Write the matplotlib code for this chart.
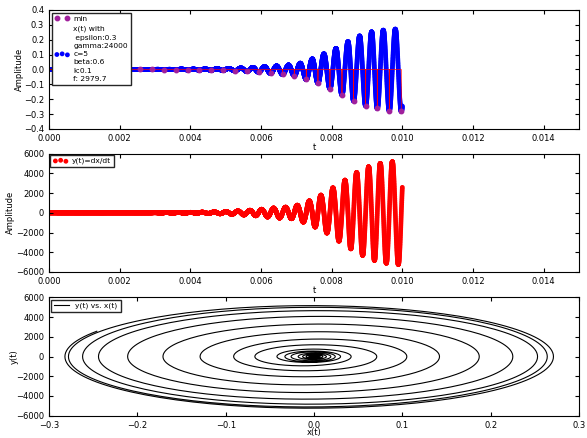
import numpy as np
import matplotlib
matplotlib.use("Agg")
import matplotlib.pyplot as plt

# x(t) minima (purple dots)
t_min = [0.00022, 0.00056, 0.00089, 0.00123, 0.00156, 0.00190, 0.00224, 0.00257,
         0.00291, 0.00324, 0.00358, 0.00392, 0.00425, 0.00459, 0.00492, 0.00526,
         0.00560, 0.00593, 0.00627, 0.00661, 0.00694, 0.00728, 0.00761, 0.00795,
         0.00829, 0.00862, 0.00896, 0.00929, 0.00963, 0.00997]
x_min = [0, 0, 0, 0, 0, 0, 0, 0, 0, -0.001, -0.001, -0.002, -0.003, -0.004, -0.006,
         -0.009, -0.013, -0.018, -0.026, -0.033, -0.042, -0.067, -0.091, -0.129,
         -0.171, -0.211, -0.244, -0.262, -0.278, -0.282]

# x(t) maxima (last one lies past the end of the record)
t_max = [0.00039, 0.00073, 0.00106, 0.00140, 0.00173, 0.00207, 0.00241, 0.00274,
         0.00308, 0.00341, 0.00375, 0.00409, 0.00442, 0.00476, 0.00509, 0.00543,
         0.00577, 0.00610, 0.00644, 0.00678, 0.00711, 0.00745, 0.00778, 0.00812,
         0.00846, 0.00879, 0.00913, 0.00946, 0.00980, 0.01014]
x_max = [0, 0, 0, 0, 0, 0, 0, 0, 0.001, 0.001, 0.002, 0.002, 0.003, 0.005, 0.007,
         0.010, 0.014, 0.019, 0.024, 0.030, 0.042, 0.071, 0.105, 0.142, 0.187,
         0.225, 0.253, 0.264, 0.271, 0.270]

# y(t)=dx/dt peaks (rising half-cycles) and troughs (falling half-cycles)
y_up = [0, 0, 0, 0, 0, 0, 0, 0, 10, 20, 30, 40, 55, 85, 120, 180, 250, 350, 470,
        560, 760, 1200, 1780, 2520, 3300, 4080, 4660, 5000, 5170, 5200]
y_down = [0, 0, 0, 0, 0, 0, 0, 0, -20, -20, -40, -45, -65, -100, -150, -215, -300,
          -420, -530, -600, -940, -1440, -2050, -2870, -3650, -4320, -4830, -5110,
          -5240]

t_end = 0.0100

# string the extrema together with half-wave segments
knot_t = [0.0]
knot_x = [0.0]
seg_y = []
for k in range(len(t_min)):
    knot_t.append(t_min[k]); knot_x.append(x_min[k])
    seg_y.append(0 if k == 0 else y_down[k - 1])
    knot_t.append(t_max[k]); knot_x.append(x_max[k])
    seg_y.append(y_up[k])

th = np.linspace(0, np.pi, 80)[:-1]
t, x, y, is_min = [], [], [], []
for i in range(len(seg_y)):
    a, b = knot_x[i], knot_x[i + 1]
    t.append(knot_t[i] + (knot_t[i + 1] - knot_t[i]) * th / np.pi)
    x.append((a + b) / 2 + (a - b) / 2 * np.cos(th))
    y.append(seg_y[i] * np.sin(th))
    flag = np.zeros(len(th), bool)
    flag[0] = i % 2 == 1
    is_min.append(flag)
t = np.concatenate(t); x = np.concatenate(x); y = np.concatenate(y)
is_min = np.concatenate(is_min)
keep = t <= t_end
t, x, y, is_min = t[keep], x[keep], y[keep], is_min[keep]

# zero except at the minima
red = np.where(is_min, x, 0.0)
rk = t <= t_min[-1]

plt.rcParams["font.size"] = 6
plt.rcParams["xtick.direction"] = "in"
plt.rcParams["ytick.direction"] = "in"
plt.rcParams["xtick.top"] = True
plt.rcParams["ytick.right"] = True
plt.rcParams["xtick.major.size"] = 3
plt.rcParams["ytick.major.size"] = 3
plt.rcParams["axes.linewidth"] = 0.8
plt.rcParams["legend.framealpha"] = 1.0
plt.rcParams["legend.edgecolor"] = "0.15"
plt.rcParams["legend.fancybox"] = False

fig = plt.figure(figsize=(5.87, 4.38), dpi=100)

# panel 1: x(t)
ax1 = fig.add_axes([0.0835, 0.7055, 0.903, 0.2717])
sc1 = ax1.scatter(t, x, s=12, c="b", edgecolors="none",
                  label="x(t) with\n epsilon:0.3\ngamma:24000\nc=5\nbeta:0.6\nk:0.1\nf: 2979.7")
ax1.plot(t[rk], red[rk], "r-", lw=0.5)
mn, = ax1.plot(t_min, x_min, "o", color="#a0209c", ms=3.2, mec="#a0209c", label="min")
ax1.set_xlim(0, 0.015)
ax1.set_ylim(-0.4, 0.4)
ax1.set_xticks(np.arange(0, 0.0141, 0.002))
ax1.set_yticks(np.arange(-0.4, 0.41, 0.1))
ax1.set_xlabel("t", labelpad=0)
ax1.set_ylabel("Amplitude", labelpad=0)
leg1 = ax1.legend(handles=[mn, sc1], loc="upper left", fontsize=5.4, numpoints=2,
                  scatterpoints=3, borderaxespad=0.35,
                  handletextpad=0.5, labelspacing=0.55)
for txt in leg1.get_texts():
    txt.set_linespacing(1.45)

# panel 2: y(t)
ax2 = fig.add_axes([0.0835, 0.379, 0.903, 0.2705])
ax2.scatter(t, y, s=12, c="r", edgecolors="none", label="y(t)=dx/dt")
ax2.set_xlim(0, 0.015)
ax2.set_ylim(-6000, 6000)
ax2.set_xticks(np.arange(0, 0.0141, 0.002))
ax2.set_yticks(np.arange(-6000, 6001, 2000))
ax2.set_xlabel("t", labelpad=0)
ax2.set_ylabel("Amplitude", labelpad=1)
ax2.legend(loc="upper left", fontsize=5.4, scatterpoints=3,
           borderaxespad=0.15, handletextpad=0.5)

# panel 3: phase portrait
ax3 = fig.add_axes([0.0835, 0.0509, 0.903, 0.270])
ax3.plot(x, y, "k-", lw=0.8, label="y(t) vs. x(t)")
ax3.set_xlim(-0.3, 0.3)
ax3.set_ylim(-6000, 6000)
ax3.set_yticks(np.arange(-6000, 6001, 2000))
ax3.set_xlabel("x(t)", labelpad=-1)
ax3.set_ylabel("y(t)", labelpad=-2)
ax3.legend(loc="upper left", fontsize=5.4, borderaxespad=0.3,
           handletextpad=0.8)

fig.savefig("out.png", dpi=100)
